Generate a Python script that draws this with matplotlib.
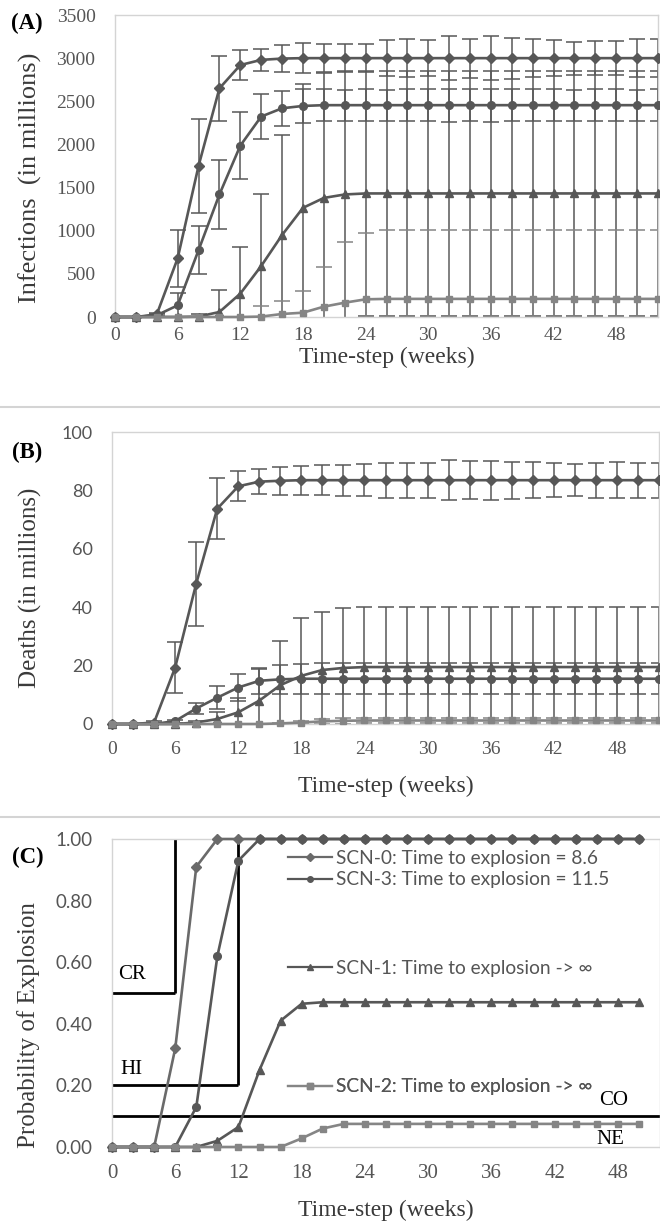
import matplotlib
matplotlib.use("Agg")
import matplotlib.pyplot as plt
from matplotlib.lines import Line2D

# ---------------- data ----------------
weeks = list(range(0, 53, 2))          # 0..52 for panels A and B
weeks_c = list(range(0, 51, 2))        # 0..50 for panel C
xticks = [0, 6, 12, 18, 24, 30, 36, 42, 48]

# Panel A: infections (millions), mean and error
inf_scn0 = [0, 0, 30, 680, 1750, 2650, 2920, 2980, 2995, 3000, 3000, 3000, 3000, 3000,
            3000, 3000, 3000, 3000, 3000, 3000, 3000, 3000, 3000, 3000, 3000, 3000, 3000]
inf_scn0_err = [0, 0, 20, 330, 540, 377, 175, 130, 155, 171, 160, 165, 165, 209,
                218, 209, 255, 227, 258, 237, 218, 209, 190, 200, 200, 218, 218]
inf_scn3 = [0, 0, 20, 135, 774, 1420, 1986, 2323, 2419, 2446, 2455, 2455, 2455, 2455,
            2455, 2455, 2455, 2455, 2455, 2455, 2455, 2455, 2455, 2455, 2455, 2455, 2455]
inf_scn3_err = [0, 0, 15, 140, 280, 400, 390, 260, 200, 195, 185, 180, 185, 180,
                185, 185, 190, 185, 190, 185, 185, 185, 180, 185, 185, 180, 185]
inf_scn1 = [0, 0, 0, 0, 5, 58, 271, 591, 950, 1265, 1380, 1420, 1432, 1432,
            1432, 1432, 1432, 1432, 1432, 1432, 1432, 1432, 1432, 1432, 1432, 1432, 1432]
inf_scn1_err = [0, 0, 0, 0, 30, 260, 540, 830, 1160, 1430, 1450, 1430, 1420, 1420,
                1420, 1420, 1420, 1420, 1420, 1420, 1420, 1420, 1420, 1420, 1420, 1420, 1420]
inf_scn2 = [0, 0, 0, 0, 0, 0, 0, 5, 35, 50, 120, 166, 205, 210,
            210, 210, 210, 210, 210, 210, 210, 210, 210, 210, 210, 210, 210]
inf_scn2_err = [0, 0, 0, 0, 0, 0, 0, 122, 154, 251, 463, 706, 768, 795,
                795, 795, 795, 795, 795, 795, 795, 795, 795, 795, 795, 795, 795]

# Panel B: deaths (millions), mean and error
dth_scn0 = [0, 0, 0.5, 19.3, 48, 73.7, 81.4, 83, 83.3, 83.5, 83.5, 83.5, 83.5, 83.5,
            83.5, 83.5, 83.5, 83.5, 83.5, 83.5, 83.5, 83.5, 83.5, 83.5, 83.5, 83.5, 83.5]
dth_scn0_err = [0, 0, 0.5, 8.8, 14.5, 10.5, 5.2, 4.2, 4.8, 5.0, 5.2, 5.3, 5.4, 6.0,
                6.0, 6.0, 6.8, 6.5, 6.7, 6.3, 6.1, 5.8, 5.4, 6.0, 6.1, 6.0, 6.0]
dth_scn3 = [0, 0, 0, 1, 5.3, 9, 12.5, 14.8, 15.3, 15.5, 15.5, 15.5, 15.5, 15.5,
            15.5, 15.5, 15.5, 15.5, 15.5, 15.5, 15.5, 15.5, 15.5, 15.5, 15.5, 15.5, 15.5]
dth_scn3_err = [0, 0, 0, 0.5, 2, 4, 4.5, 4.5, 5, 5.2, 5.3, 5.3, 5.3, 5.3,
                5.3, 5.3, 5.3, 5.3, 5.3, 5.3, 5.3, 5.3, 5.3, 5.3, 5.3, 5.3, 5.3]
dth_scn1 = [0, 0, 0, 0, 0.5, 1.7, 4, 8, 13.3, 16.5, 18.5, 19.2, 19.5, 19.5,
            19.5, 19.5, 19.5, 19.5, 19.5, 19.5, 19.5, 19.5, 19.5, 19.5, 19.5, 19.5, 19.5]
dth_scn1_err = [0, 0, 0, 0, 0.5, 2.5, 5, 11, 15, 19.8, 20, 20.5, 20.5, 20.5,
                20.5, 20.5, 20.5, 20.5, 20.5, 20.5, 20.5, 20.5, 20.5, 20.5, 20.5, 20.5, 20.5]
dth_scn2 = [0, 0, 0, 0, 0, 0, 0, 0, 0.2, 0.5, 0.9, 1.1, 1.2, 1.2,
            1.2, 1.2, 1.2, 1.2, 1.2, 1.2, 1.2, 1.2, 1.2, 1.2, 1.2, 1.2, 1.2]
dth_scn2_err = [0, 0, 0, 0, 0, 0, 0, 0, 0.2, 0.4, 0.8, 1.0, 1.0, 1.0,
                1.0, 1.0, 1.0, 1.0, 1.0, 1.0, 1.0, 1.0, 1.0, 1.0, 1.0, 1.0, 1.0]

# Panel C: probability of explosion
p_scn0 = [0, 0, 0, 0.32, 0.91, 1.0, 1.0, 1.0, 1.0, 1.0, 1.0, 1.0, 1.0,
          1.0, 1.0, 1.0, 1.0, 1.0, 1.0, 1.0, 1.0, 1.0, 1.0, 1.0, 1.0, 1.0]
p_scn3 = [0, 0, 0, 0, 0.13, 0.62, 0.93, 1.0, 1.0, 1.0, 1.0, 1.0, 1.0,
          1.0, 1.0, 1.0, 1.0, 1.0, 1.0, 1.0, 1.0, 1.0, 1.0, 1.0, 1.0, 1.0]
p_scn1 = [0, 0, 0, 0, 0, 0.02, 0.065, 0.25, 0.41, 0.465, 0.47, 0.47, 0.47,
          0.47, 0.47, 0.47, 0.47, 0.47, 0.47, 0.47, 0.47, 0.47, 0.47, 0.47, 0.47, 0.47]
p_scn2 = [0, 0, 0, 0, 0, 0, 0, 0, 0, 0.028, 0.06, 0.075, 0.075,
          0.075, 0.075, 0.075, 0.075, 0.075, 0.075, 0.075, 0.075, 0.075, 0.075, 0.075, 0.075, 0.075]
legend_labels = ["SCN-0: Time to explosion = 8.6",
                 "SCN-3: Time to explosion = 11.5",
                 "SCN-1: Time to explosion -> \u221e",
                 "SCN-2: Time to explosion -> \u221e"]
legend_y = [0.938, 0.867, 0.581, 0.195]
cr_week, cr_prob = 6, 0.5
hi_week, hi_prob = 12, 0.2
co_prob = 0.1

# ---------------- style ----------------
SERIF = "Liberation Serif"
SANS = "Lato"
DARK = "#575757"
MID = "#6a6a6a"
LIGHT = "#858585"
TICKC = "#555555"
LABC = "#3a3a3a"
markers = {"scn0": "D", "scn3": "o", "scn1": "^", "scn2": "s"}
msizes = {"scn0": 5.5, "scn3": 5.5, "scn1": 6.0, "scn2": 5.0}

W, H = 660, 1226
fig = plt.figure(figsize=(W / 100, H / 100), dpi=100)


def rect(l, r, t, b):
    return [l / W, 1 - b / H, (r - l) / W, (b - t) / H]


def frame(ax):
    for s in ax.spines.values():
        s.set_color("#d4d4d4")
        s.set_linewidth(1.0)
    ax.tick_params(length=0)


def series(ax, x, y, err, key, color):
    if err is not None:
        ax.errorbar(x, y, yerr=err, fmt="none", ecolor=color, elinewidth=1.1,
                    capsize=6, capthick=1.1, zorder=2)
    ax.plot(x, y, color=color, lw=1.9, marker=markers[key], ms=msizes[key],
            mfc=color, mec=color, zorder=3, clip_on=False)


# ---------------- panel A ----------------
axA = fig.add_axes(rect(115, 658, 15, 317))
frame(axA)
series(axA, weeks, inf_scn0, inf_scn0_err, "scn0", DARK)
series(axA, weeks, inf_scn3, inf_scn3_err, "scn3", DARK)
series(axA, weeks, inf_scn1, inf_scn1_err, "scn1", DARK)
series(axA, weeks, inf_scn2, inf_scn2_err, "scn2", LIGHT)
axA.set_xlim(0, 52)
axA.set_ylim(0, 3500)
axA.set_yticks(range(0, 3501, 500))
axA.set_xticks(xticks)
axA.tick_params(axis="y", pad=14)
axA.tick_params(axis="x", pad=7)
for lab in axA.get_xticklabels() + axA.get_yticklabels():
    lab.set_fontfamily(SERIF)
    lab.set_fontsize(14)
    lab.set_color(TICKC)
axA.set_xlabel("Time-step (weeks)", family=SERIF, fontsize=17, color=LABC, labelpad=2)
fig.text(30 / W, 1 - 178 / H, "Infections  (in millions)", rotation=90, family=SERIF,
         fontsize=19, color=LABC, ha="center", va="center")
fig.text(27 / W, 1 - 23 / H, "(A)", family=SERIF, fontsize=16.5, weight="bold",
         ha="center", va="center")

# separators
fig.add_artist(Line2D([0, 1], [1 - 407 / H, 1 - 407 / H], color="#d4d4d4", lw=1.5))
fig.add_artist(Line2D([0, 1], [1 - 817 / H, 1 - 817 / H], color="#d4d4d4", lw=1.5))

# ---------------- panel B ----------------
axB = fig.add_axes(rect(112, 659, 432, 724))
frame(axB)
series(axB, weeks, dth_scn0, dth_scn0_err, "scn0", DARK)
series(axB, weeks, dth_scn3, dth_scn3_err, "scn3", DARK)
series(axB, weeks, dth_scn1, dth_scn1_err, "scn1", DARK)
series(axB, weeks, dth_scn2, dth_scn2_err, "scn2", LIGHT)
axB.set_xlim(0, 52)
axB.set_ylim(0, 100)
axB.set_yticks(range(0, 101, 20))
axB.set_xticks(xticks)
axB.tick_params(axis="y", pad=14)
axB.tick_params(axis="x", pad=12)
for lab in axB.get_yticklabels():
    lab.set_fontfamily(SANS)
    lab.set_fontsize(13)
    lab.set_color(TICKC)
for lab in axB.get_xticklabels():
    lab.set_fontfamily(SERIF)
    lab.set_fontsize(14)
    lab.set_color(TICKC)
axB.set_xlabel("Time-step (weeks)", family=SERIF, fontsize=17, color=LABC, labelpad=13)
fig.text(30 / W, 1 - 588 / H, "Deaths (in millions)", rotation=90, family=SERIF,
         fontsize=18, color=LABC, ha="center", va="center")
fig.text(27 / W, 1 - 452 / H, "(B)", family=SERIF, fontsize=16.5, weight="bold",
         ha="center", va="center")

# ---------------- panel C ----------------
axC = fig.add_axes(rect(112, 660, 839, 1147))
frame(axC)
series(axC, weeks_c, p_scn0, None, "scn0", MID)
series(axC, weeks_c, p_scn3, None, "scn3", DARK)
series(axC, weeks_c, p_scn1, None, "scn1", DARK)
series(axC, weeks_c, p_scn2, None, "scn2", LIGHT)
axC.set_xlim(0, 52)
axC.set_ylim(0, 1)
axC.set_yticks([0, 0.2, 0.4, 0.6, 0.8, 1.0])
axC.set_yticklabels(["%.2f" % v for v in [0, 0.2, 0.4, 0.6, 0.8, 1.0]])
axC.set_xticks(xticks)
axC.tick_params(axis="y", pad=14)
axC.tick_params(axis="x", pad=12)
for lab in axC.get_yticklabels():
    lab.set_fontfamily(SANS)
    lab.set_fontsize(13.5)
    lab.set_color(TICKC)
for lab in axC.get_xticklabels():
    lab.set_fontfamily(SERIF)
    lab.set_fontsize(15)
    lab.set_color(TICKC)
axC.set_xlabel("Time-step (weeks)", family=SERIF, fontsize=17, color=LABC, labelpad=12)
fig.text(29 / W, 1 - 1025 / H, "Probability of Explosion", rotation=90, family=SERIF,
         fontsize=18, color=LABC, ha="center", va="center")
fig.text(28 / W, 1 - 857 / H, "(C)", family=SERIF, fontsize=16.5, weight="bold",
         ha="center", va="center")

# thresholds
axC.hlines(cr_prob, 0, cr_week, color="black", lw=2)
axC.vlines(cr_week, cr_prob, 1.0, color="black", lw=2)
axC.hlines(hi_prob, 0, hi_week, color="black", lw=2)
axC.vlines(hi_week, hi_prob, 1.0, color="black", lw=2)
axC.axhline(co_prob, color="black", lw=2)
axC.text(0.6, cr_prob + 0.06, "CR", family=SERIF, fontsize=15, va="center")
axC.text(0.8, hi_prob + 0.05, "HI", family=SERIF, fontsize=15, va="center")
axC.text(47.6, co_prob + 0.05, "CO", family=SERIF, fontsize=15, va="center", ha="center")
axC.text(47.3, 0.025, "NE", family=SERIF, fontsize=15, va="center", ha="center")

# individual legend entries
keys = ["scn0", "scn3", "scn1", "scn2"]
cols = [MID, DARK, DARK, LIGHT]
for key, col, lab, yy in zip(keys, cols, legend_labels, legend_y):
    h = Line2D([], [], color=col, lw=1.6, marker=markers[key], ms=4, mfc=col, mec=col)
    leg = axC.legend(handles=[h], labels=[lab], loc="center left",
                     bbox_to_anchor=(16.7, yy), bbox_transform=axC.transData,
                     frameon=False, borderpad=0, borderaxespad=0, handlelength=2.3,
                     handletextpad=0.2, numpoints=1,
                     prop={"family": [SANS, "DejaVu Sans"], "size": 13.8})
    for t in leg.get_texts():
        t.set_color("#555555")
    axC.add_artist(leg)

fig.savefig("out.png", dpi=100)
